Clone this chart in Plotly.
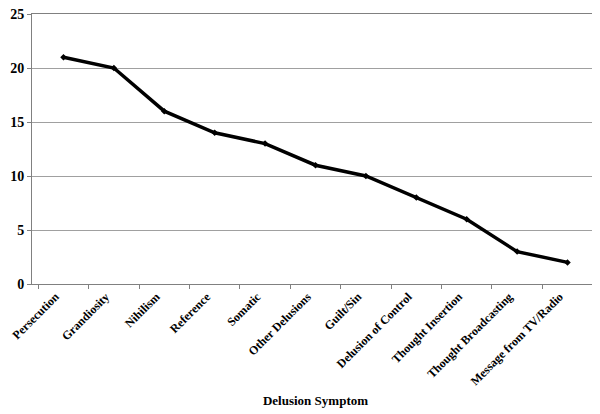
import plotly.graph_objects as go

categories = ["Persecution", "Grandiosity", "Nihilism", "Reference", "Somatic",
              "Other Delusions", "Guilt/Sin", "Delusion of Control",
              "Thought Insertion", "Thought Broadcasting", "Message from TV/Radio"]
values = [21, 20, 16, 14, 13, 11, 10, 8, 6, 3, 2]
y_ticks = [0, 5, 10, 15, 20, 25]

font_family = "Liberation Serif, Times New Roman, serif"

fig = go.Figure(go.Scatter(
    x=categories, y=values, mode="lines+markers",
    line=dict(color="black", width=3.5),
    marker=dict(symbol="diamond", size=5, color="black"),
    showlegend=False,
))

# page body has an 8px margin, so the figure is sized/margined to compensate
fig.update_layout(
    width=592, height=406,
    margin=dict(l=24, r=1, t=6, b=130),
    paper_bgcolor="white", plot_bgcolor="white",
    font=dict(family=font_family, size=12, color="black"),
    xaxis=dict(
        type="category", tickangle=-45, ticks="outside", ticklen=4,
        tickson="boundaries", tickcolor="#808080",
        showline=True, linecolor="#808080", linewidth=1, mirror=True,
        showgrid=False, automargin=False, ticklabeloverflow="allow",
        ticklabelshift=-8,
        tickfont=dict(family=font_family, size=12, color="black", weight="bold"),
        title=dict(text="<b>Delusion Symptom</b>", standoff=8,
                   font=dict(family=font_family, size=13, color="black")),
    ),
    yaxis=dict(
        range=[0, 25], tickvals=y_ticks, ticks="outside", ticklen=4,
        tickcolor="#808080",
        showline=True, linecolor="#808080", linewidth=1, mirror=True,
        showgrid=True, gridcolor="#a0a0a0", gridwidth=1, zeroline=False,
        automargin=False, ticklabeloverflow="allow",
        tickfont=dict(family=font_family, size=14, color="black", weight="bold"),
    ),
)

fig.write_html("out.html")
